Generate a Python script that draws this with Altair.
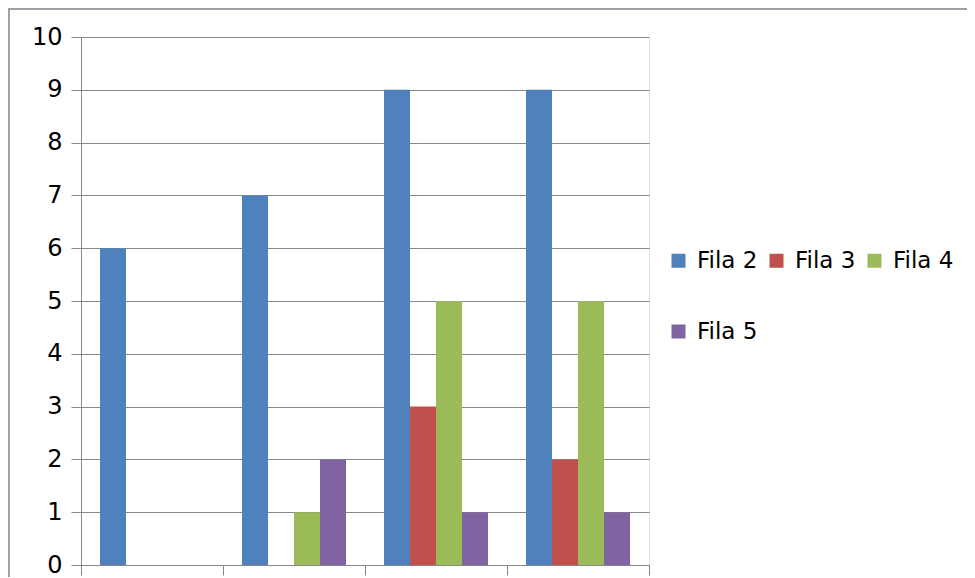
import altair as alt
import pandas as pd

categories = ["A", "B", "C", "D"]
series_names = ["Fila 2", "Fila 3", "Fila 4", "Fila 5"]
fila2 = [6, 7, 9, 9]
fila3 = [0, 0, 3, 2]
fila4 = [0, 1, 5, 5]
fila5 = [0, 2, 1, 1]
colors = ["#4F81BD", "#C0504D", "#9BBB59", "#8064A2"]

rows = []
for name, vals in zip(series_names, [fila2, fila3, fila4, fila5]):
    for c, v in zip(categories, vals):
        rows.append({"cat": c, "series": name, "value": v})
df = pd.DataFrame(rows)

grid_color = "#878787"

bars = alt.Chart(df).mark_bar().encode(
    x=alt.X("cat:N", sort=categories,
            scale=alt.Scale(paddingInner=0, paddingOuter=0),
            axis=alt.Axis(labels=False, title=None, tickBand="extent", ticks=True,
                          tickSize=10, tickColor=grid_color, domainColor=grid_color,
                          grid=False)),
    xOffset=alt.XOffset("series:N", sort=series_names,
                        scale=alt.Scale(paddingOuter=0.73, paddingInner=0)),
    y=alt.Y("value:Q", scale=alt.Scale(domain=[0, 10], nice=False),
            axis=alt.Axis(title=None, values=list(range(0, 11)), tickSize=10,
                          tickColor=grid_color, domainColor=grid_color,
                          gridColor=grid_color, labelFontSize=24, labelColor="black",
                          labelFont="DejaVu Sans", labelPadding=9)),
    color=alt.Color("series:N", sort=series_names,
                    scale=alt.Scale(domain=series_names, range=colors),
                    legend=alt.Legend(title=None, orient="none", legendX=586, legendY=212,
                                      direction="horizontal",
                                      columns=3, symbolType="square", symbolSize=196,
                                      symbolStrokeWidth=0, labelFontSize=23,
                                      labelFont="DejaVu Sans", labelColor="black",
                                      labelOffset=7, columnPadding=7, rowPadding=47,
                                      padding=0)),
)

frame_top = alt.Chart(df).mark_rule(color="#a0a0a8", strokeWidth=2).encode(
    x=alt.value(-73), x2=alt.value(900), y=alt.value(-28))
frame_left = alt.Chart(df).mark_rule(color="#a0a0a8", strokeWidth=2).encode(
    x=alt.value(-72), y=alt.value(-29), y2=alt.value(560))

chart = alt.layer(bars, frame_top, frame_left).properties(
    width=568, height=528,
    padding={"left": 73, "top": 29, "right": 318, "bottom": 12},
    autosize=alt.AutoSizeParams(type="none"),
).configure_view(stroke=None).configure(font="DejaVu Sans")

chart.save("out.html", embed_options={"renderer": "svg", "actions": False})
